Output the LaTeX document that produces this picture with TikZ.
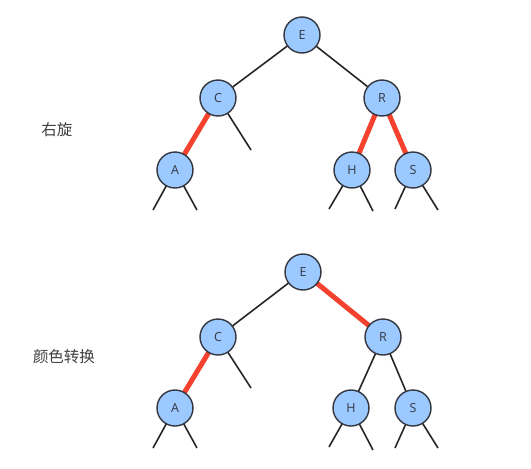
\documentclass[tikz,border=0pt]{standalone}
\usepackage{fontspec}
\setmainfont{Open Sans}
\newfontfamily\cjk{Noto Sans CJK SC}
\usetikzlibrary{backgrounds}
\definecolor{nodefill}{HTML}{9CC9FF}
\definecolor{nodeline}{HTML}{333740}
\definecolor{redline}{HTML}{F5422E}
\begin{document}
\begin{tikzpicture}[x=1pt,y=-1pt,
  rb/.style={circle,draw=nodeline,line width=1.4pt,fill=nodefill,minimum size=36pt,inner sep=0pt,font=\fontsize{12.5}{13}\selectfont,text=nodeline},
  blk/.style={draw=black!85,line width=1.6pt},
  red/.style={draw=redline,line width=5pt},
  lbl/.style={font=\cjk\fontsize{15.5}{16}\selectfont,text=black!75}]
\useasboundingbox (0,0) rectangle (531,469);
% top tree
\node[lbl] (t1) at (57,130) {右旋};
\coordinate (c1) at (251,150);
\coordinate (a1l) at (153,210);
\coordinate (a1r) at (197,210);
\coordinate (h1l) at (329,209);
\coordinate (h1r) at (373,211);
\coordinate (s1l) at (395,209);
\coordinate (s1r) at (438,210);
\node[rb] (E1) at (302,35) {E};
\node[rb] (C1) at (218,98) {C};
\node[rb] (R1) at (382,98) {R};
\node[rb] (A1) at (175,170) {A};
\node[rb] (H1) at (352,170) {H};
\node[rb] (S1) at (413,170) {S};
% bottom tree
\node[lbl] (t2) at (64,357) {颜色转换};
\coordinate (c2) at (251,388);
\coordinate (a2l) at (153,448);
\coordinate (a2r) at (197,448);
\coordinate (h2l) at (329,447);
\coordinate (h2r) at (373,450);
\coordinate (s2l) at (395,448);
\coordinate (s2r) at (438,448);
\node[rb] (E2) at (303,272) {E};
\node[rb] (C2) at (218,337) {C};
\node[rb] (R2) at (383,337) {R};
\node[rb] (A2) at (175,408) {A};
\node[rb] (H2) at (351,408) {H};
\node[rb] (S2) at (413,408) {S};
\begin{scope}[on background layer]
\fill[white] (0,0) rectangle (531,469);
\draw[blk] (E1.center) -- (C1.center);
\draw[blk] (E1.center) -- (R1.center);
\draw[red] (C1.center) -- (A1.center);
\draw[blk] (C1.center) -- (c1);
\draw[red] (R1.center) -- (H1.center);
\draw[red] (R1.center) -- (S1.center);
\draw[blk] (A1.center) -- (a1l);
\draw[blk] (A1.center) -- (a1r);
\draw[blk] (H1.center) -- (h1l);
\draw[blk] (H1.center) -- (h1r);
\draw[blk] (S1.center) -- (s1l);
\draw[blk] (S1.center) -- (s1r);
\draw[blk] (E2.center) -- (C2.center);
\draw[red] (E2.center) -- (R2.center);
\draw[red] (C2.center) -- (A2.center);
\draw[blk] (C2.center) -- (c2);
\draw[blk] (R2.center) -- (H2.center);
\draw[blk] (R2.center) -- (S2.center);
\draw[blk] (A2.center) -- (a2l);
\draw[blk] (A2.center) -- (a2r);
\draw[blk] (H2.center) -- (h2l);
\draw[blk] (H2.center) -- (h2r);
\draw[blk] (S2.center) -- (s2l);
\draw[blk] (S2.center) -- (s2r);
\end{scope}
\end{tikzpicture}
\end{document}
